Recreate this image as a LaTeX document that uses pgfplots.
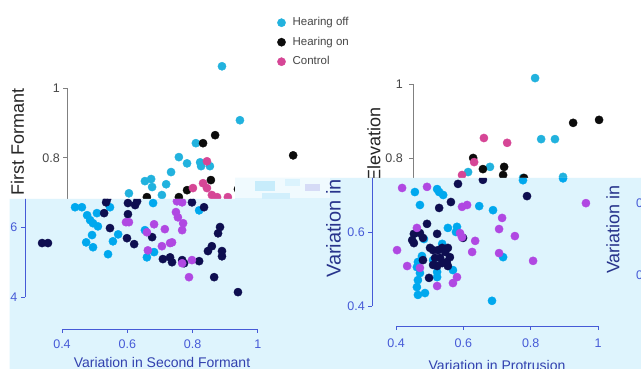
\documentclass[border=0pt]{standalone}
\usepackage{fontspec}
\setmainfont{Liberation Sans}
\usepackage{pgfplots}
\pgfplotsset{compat=1.18}
\definecolor{cOff}{RGB}{34,178,222}
\definecolor{cOn}{RGB}{12,12,12}
\definecolor{cCtl}{RGB}{214,70,150}
\definecolor{bSky}{RGB}{0,168,238}
\definecolor{bNavy}{RGB}{14,14,80}
\definecolor{bPur}{RGB}{176,72,226}
\definecolor{bgBlue}{RGB}{222,244,253}
\definecolor{axBlue}{RGB}{70,90,215}
\definecolor{labBlue}{RGB}{50,65,175}
\definecolor{tickGray}{RGB}{70,70,70}
\pgfplotsset{dot/.style={only marks, mark=*, mark size=4.1pt, mark options={draw=none, fill=#1}, color=#1}}
\newcommand{\tickfont}{\fontsize{12.5}{14}\selectfont}
\newcommand{\ylabfont}{\fontsize{18}{20}\selectfont}
\newcommand{\xlabfont}{\fontsize{14}{16}\selectfont}
\begin{document}
\begin{tikzpicture}[x=1pt,y=1pt]
\path[use as bounding box] (0,0) rectangle (641,369);
\fill[white] (0,0) rectangle (641,369);
% ---------- top layer, left panel ----------
\begin{axis}[at={(29.35pt,54.6pt)}, anchor=south west, scale only axis,
  width=228.55pt, height=261pt, xmin=0.3, xmax=1.0, ymin=0.35, ymax=1.1,
  hide axis, clip=false,
  legend cell align=left,
  legend image code/.code={\draw[#1] plot coordinates {(0pt,0pt)};},
  legend style={draw=none, fill=none, at={(axis description cs:1.0845,1.1433)}, anchor=north west,
    inner sep=0pt, font=\fontsize{11.5}{13}\selectfont, row sep=6.5pt,
    nodes={inner sep=1pt, text height=8.5pt, text depth=2.5pt, text=tickGray},
    /tikz/every odd column/.append style={column sep=6pt}}]
\addplot[dot=cOff] coordinates {(0.890,1.063) (0.945,0.908) (0.810,0.842) (0.758,0.802) (0.783,0.784) (0.823,0.787) (0.826,0.776) (0.853,0.776) (0.734,0.759) (0.654,0.733) (0.673,0.739) (0.676,0.716) (0.719,0.724) (0.605,0.698) (0.706,0.693)};
\addlegendentry{Hearing off}
\addplot[dot=cOn] coordinates {(0.869,0.865) (0.832,0.842) (1.108,0.807) (0.856,0.736) (0.783,0.707) (0.939,0.710) (0.660,0.687) (0.758,0.687)};
\addlegendentry{Hearing on}
\addplot[dot=cCtl] coordinates {(0.844,0.790) (0.832,0.727) (0.844,0.713) (0.801,0.713) (0.875,0.687) (0.908,0.687) (0.859,0.693)};
\addlegendentry{Control}
\draw[gray, line width=0.9pt] (axis cs:0.4153,1.0) -- (axis cs:0.4153,0.6);
\draw[gray, line width=0.9pt] (axis cs:0.4153,1.0) -- (axis cs:0.403,1.0);
\draw[gray, line width=0.9pt] (axis cs:0.4153,0.8) -- (axis cs:0.403,0.8);
\node[anchor=east, inner sep=0pt, text=tickGray, font=\tickfont] at (axis cs:0.394,1.0) {1};
\node[anchor=east, inner sep=0pt, text=tickGray, font=\tickfont] at (axis cs:0.394,0.8) {0.8};
\node[rotate=90, anchor=east, inner sep=0pt, text=black!85, font=\ylabfont] at (axis cs:0.2637,1.0) {Variation in First Formant};
\end{axis}
% ---------- top layer, right panel ----------
\begin{axis}[at={(379.2pt,44.5pt)}, anchor=south west, scale only axis,
  width=235.7pt, height=277.5pt, xmin=0.35, xmax=1.05, ymin=0.35, ymax=1.1,
  hide axis, clip=false]
\addplot[dot=cOff] coordinates {(0.813,1.016) (0.831,0.851) (0.872,0.851) (0.614,0.762) (0.679,0.776) (0.896,0.749) (0.777,0.746)};
\addplot[dot=cOn] coordinates {(0.926,0.895) (1.003,0.903) (0.629,0.800) (0.658,0.770) (0.721,0.776) (0.718,0.754) (0.780,0.746)};
\addplot[dot=cCtl] coordinates {(0.661,0.854) (0.730,0.841) (0.632,0.789) (0.596,0.754)};
\draw[gray, line width=0.9pt] (axis cs:0.4505,1.0) -- (axis cs:0.4505,0.6);
\draw[gray, line width=0.9pt] (axis cs:0.4505,1.0) -- (axis cs:0.4386,1.0);
\draw[gray, line width=0.9pt] (axis cs:0.4505,0.8) -- (axis cs:0.4386,0.8);
\node[anchor=east, inner sep=0pt, text=tickGray, font=\tickfont] at (axis cs:0.4208,1.0) {1};
\node[anchor=east, inner sep=0pt, text=tickGray, font=\tickfont] at (axis cs:0.4208,0.8) {0.8};
\node[rotate=90, anchor=east, inner sep=0pt, text=black!85, font=\ylabfont] at (axis cs:0.3347,0.9378) {Variation in Elevation};
\end{axis}
% ---------- bottom (shifted) layer ----------
\begin{scope}
\clip (9.5,170) -- (235,170) -- (235,191) -- (641,191) -- (641,0) -- (9.5,0) -- cycle;
\fill[bgBlue] (0,0) rectangle (641,369);
\fill[white!55!bgBlue] (235,171) rectangle (330,191);
\fill[bSky!22] (255,178) rectangle (275,188);
\fill[bSky!14] (285,183) rectangle (300,190);
\fill[axBlue!22] (305,178) rectangle (320,185);
\fill[bSky!18] (262,170) rectangle (290,176);
\fill[gray!60] (625,354) rectangle (641,369);
\begin{axis}[at={(29.35pt,54.6pt)}, anchor=south west, scale only axis,
  width=228.55pt, height=261pt, xmin=0.3, xmax=1.0, ymin=0.35, ymax=1.1,
  hide axis, clip=false]
\addplot[dot=bSky] coordinates {(0.440,0.658) (0.461,0.658) (0.477,0.635) (0.486,0.621) (0.495,0.612) (0.510,0.603) (0.507,0.641) (0.547,0.658) (0.492,0.578) (0.474,0.557) (0.495,0.543) (0.541,0.523) (0.556,0.560) (0.572,0.580) (0.654,0.592) (0.660,0.514) (0.682,0.529) (0.820,0.649) (0.679,0.670)};
\addplot[dot=bNavy] coordinates {(0.529,0.641) (0.602,0.638) (0.547,0.598) (0.599,0.569) (0.621,0.552) (0.676,0.572) (0.835,0.658) (0.884,0.601) (0.878,0.583) (0.859,0.546) (0.847,0.532) (0.890,0.532) (0.890,0.517) (0.709,0.509) (0.731,0.514) (0.737,0.500) (0.768,0.506) (0.774,0.497) (0.820,0.503) (0.866,0.457) (0.939,0.414) (0.339,0.555) (0.357,0.555) (0.624,0.664) (0.538,0.681) (0.798,0.672) (0.535,0.672) (0.602,0.670) (0.630,0.675)};
\addplot[dot=bPur] coordinates {(0.596,0.615) (0.605,0.615) (0.682,0.609) (0.715,0.595) (0.749,0.644) (0.755,0.629) (0.771,0.612) (0.768,0.592) (0.660,0.586) (0.663,0.534) (0.706,0.546) (0.731,0.555) (0.737,0.557) (0.768,0.497) (0.798,0.506) (0.789,0.457) (0.752,0.675) (0.768,0.672)};
\draw[axBlue, line width=0.9pt] (axis cs:0.2867,0.70) -- (axis cs:0.2867,0.4);
\draw[axBlue, line width=0.9pt] (axis cs:0.2867,0.6) -- (axis cs:0.2745,0.6);
\draw[axBlue, line width=0.9pt] (axis cs:0.2867,0.4) -- (axis cs:0.2745,0.4);
\node[anchor=east, inner sep=0pt, text=axBlue, font=\tickfont] at (axis cs:0.2637,0.6) {0.6};
\node[anchor=east, inner sep=0pt, text=axBlue, font=\tickfont] at (axis cs:0.2637,0.4) {0.4};
\draw[axBlue, line width=0.9pt] (axis cs:0.4,0.3075) -- (axis cs:1.0,0.3075);
\draw[axBlue, line width=0.9pt] (axis cs:0.4,0.3075) -- (axis cs:0.4,0.296);
\draw[axBlue, line width=0.9pt] (axis cs:0.6,0.3075) -- (axis cs:0.6,0.296);
\draw[axBlue, line width=0.9pt] (axis cs:0.8,0.3075) -- (axis cs:0.8,0.296);
\draw[axBlue, line width=0.9pt] (axis cs:1.0,0.3075) -- (axis cs:1.0,0.296);
\node[anchor=base, inner sep=0pt, text=axBlue, font=\tickfont] at (axis cs:0.4,0.2529) {0.4};
\node[anchor=base, inner sep=0pt, text=axBlue, font=\tickfont] at (axis cs:0.6,0.2529) {0.6};
\node[anchor=base, inner sep=0pt, text=axBlue, font=\tickfont] at (axis cs:0.8,0.2529) {0.8};
\node[anchor=base, inner sep=0pt, text=axBlue, font=\tickfont] at (axis cs:1.0,0.2529) {1};
\node[anchor=base, inner sep=0pt, text=labBlue, font=\xlabfont] at (axis cs:0.7063,0.1983) {Variation in Second Formant};
\end{axis}
\begin{axis}[at={(379.2pt,44.5pt)}, anchor=south west, scale only axis,
  width=235.7pt, height=277.5pt, xmin=0.35, xmax=1.05, ymin=0.35, ymax=1.1,
  hide axis, clip=false]
\addplot[dot=bSky] coordinates {(0.456,0.708) (0.522,0.716) (0.528,0.708) (0.540,0.700) (0.471,0.673) (0.647,0.670) (0.688,0.659) (0.581,0.614) (0.578,0.600) (0.554,0.611) (0.483,0.581) (0.537,0.568) (0.718,0.532) (0.477,0.535) (0.465,0.519) (0.462,0.505) (0.471,0.489) (0.465,0.470) (0.462,0.451) (0.465,0.430) (0.486,0.435) (0.522,0.492) (0.522,0.478) (0.569,0.497) (0.685,0.414) (0.510,0.524) (0.777,0.740) (0.896,0.745)};
\addplot[dot=bNavy] coordinates {(0.584,0.730) (0.563,0.681) (0.528,0.665) (0.789,0.697) (0.492,0.622) (0.453,0.595) (0.448,0.578) (0.453,0.570) (0.471,0.597) (0.480,0.584) (0.522,0.595) (0.480,0.524) (0.498,0.476) (0.599,0.584) (0.658,0.741) (0.501,0.557) (0.510,0.551) (0.525,0.551) (0.537,0.557) (0.546,0.546) (0.554,0.557) (0.560,0.532) (0.551,0.519) (0.537,0.516) (0.522,0.508) (0.510,0.511) (0.516,0.530) (0.554,0.508) (0.531,0.530)};
\addplot[dot=bPur] coordinates {(0.418,0.719) (0.492,0.722) (0.596,0.668) (0.611,0.673) (0.964,0.678) (0.715,0.638) (0.706,0.608) (0.753,0.589) (0.462,0.611) (0.590,0.597) (0.596,0.586) (0.635,0.576) (0.403,0.551) (0.626,0.546) (0.706,0.543) (0.807,0.522) (0.433,0.508) (0.471,0.503) (0.581,0.478) (0.569,0.462) (0.522,0.454)};
\draw[axBlue, line width=0.9pt] (axis cs:0.3287,0.76) -- (axis cs:0.3287,0.4);
\draw[axBlue, line width=0.9pt] (axis cs:0.3287,0.6) -- (axis cs:0.3168,0.6);
\draw[axBlue, line width=0.9pt] (axis cs:0.3287,0.4) -- (axis cs:0.3168,0.4);
\node[anchor=east, inner sep=0pt, text=axBlue, font=\tickfont] at (axis cs:0.3079,0.6) {0.6};
\node[anchor=east, inner sep=0pt, text=axBlue, font=\tickfont] at (axis cs:0.3079,0.4) {0.4};
\node[rotate=90, anchor=west, inner sep=0pt, text=labBlue!80!black, font=\fontsize{20}{22}\selectfont] at (axis cs:0.2144,0.4757) {Variation in Elevation};
\draw[axBlue, line width=0.9pt] (axis cs:0.4,0.3459) -- (axis cs:1.0,0.3459);
\draw[axBlue, line width=0.9pt] (axis cs:0.4,0.3459) -- (axis cs:0.4,0.3351);
\draw[axBlue, line width=0.9pt] (axis cs:0.6,0.3459) -- (axis cs:0.6,0.3351);
\draw[axBlue, line width=0.9pt] (axis cs:0.8,0.3459) -- (axis cs:0.8,0.3351);
\draw[axBlue, line width=0.9pt] (axis cs:1.0,0.3459) -- (axis cs:1.0,0.3351);
\node[anchor=base, inner sep=0pt, text=axBlue, font=\tickfont] at (axis cs:0.4,0.2865) {0.4};
\node[anchor=base, inner sep=0pt, text=axBlue, font=\tickfont] at (axis cs:0.6,0.2865) {0.6};
\node[anchor=base, inner sep=0pt, text=axBlue, font=\tickfont] at (axis cs:0.8,0.2865) {0.8};
\node[anchor=base, inner sep=0pt, text=axBlue, font=\tickfont] at (axis cs:1.0,0.2865) {1};
\node[anchor=base, inner sep=0pt, text=labBlue, font=\xlabfont] at (axis cs:0.70,0.227) {Variation in Protrusion};
\node[rotate=90, anchor=west, inner sep=0pt, text=labBlue!80!black, font=\ylabfont] at (axis cs:1.0445,0.4865) {Variation in};
\node[anchor=west, inner sep=0pt, text=axBlue, font=\tickfont] at (axis cs:1.1128,0.6784) {0.6};
\node[anchor=west, inner sep=0pt, text=axBlue, font=\tickfont] at (axis cs:1.1128,0.4838) {0.4};
\end{axis}
\end{scope}
\end{tikzpicture}
\end{document}
